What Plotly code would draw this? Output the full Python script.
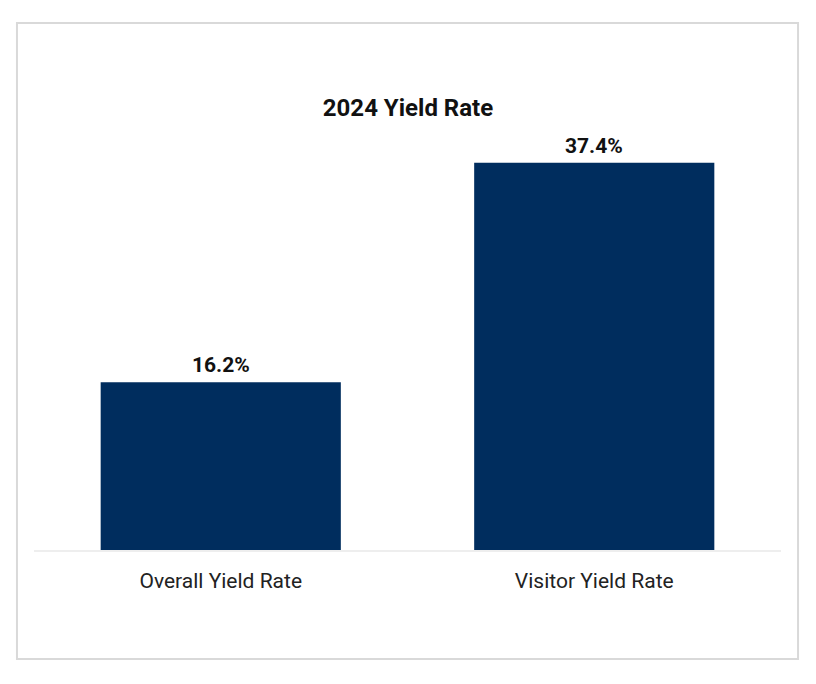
import plotly.graph_objects as go

# data
categories = ["Overall Yield Rate", "Visitor Yield Rate"]
yield_rates = [16.2, 37.4]
bar_labels = ["16.2%", "37.4%"]
chart_title = "2024 Yield Rate"

BAR_COLOR = "#002D5E"

# the page body adds an 8px margin, so the margins are shifted to compensate
OFF = 8

fig = go.Figure(
    go.Bar(
        x=categories,
        y=yield_rates,
        marker=dict(color=BAR_COLOR, line=dict(width=0)),
        hoverinfo="skip",
    )
)

# value labels above the bars
for cat, val, lab in zip(categories, yield_rates, bar_labels):
    fig.add_annotation(
        x=cat,
        y=val,
        text=f"<b>{lab}</b>",
        showarrow=False,
        yanchor="bottom",
        yshift=3,
        font=dict(family="Roboto", size=21, color="#111111"),
    )

# light grey frame around the whole chart
fig.add_shape(
    type="rect",
    xref="paper",
    yref="paper",
    x0=-0.0228,
    x1=1.0228,
    y0=-0.2339,
    y1=1.1309,
    line=dict(color="#d9d9d9", width=2),
    fillcolor="rgba(0,0,0,0)",
    layer="below",
)

fig.update_layout(
    width=816,
    height=684,
    margin=dict(l=34 - OFF, r=35 + OFF, t=84 - OFF, b=134 + OFF),
    paper_bgcolor="white",
    plot_bgcolor="white",
    bargap=0.357,
    showlegend=False,
    title=dict(
        text="<b>" + chart_title + "</b>",
        x=(408 - OFF) / 816,
        xanchor="center",
        y=1 - (108 - OFF) / 684,
        yanchor="middle",
        font=dict(family="Roboto", size=24, color="#111111"),
    ),
    xaxis=dict(
        showline=True,
        linecolor="#eeeeee",
        linewidth=2,
        showgrid=False,
        ticks="",
        ticklabelstandoff=11,
        tickfont=dict(family="Roboto", size=21, color="#222222"),
    ),
    yaxis=dict(
        range=[0, 45.0],
        visible=False,
        showgrid=False,
        zeroline=False,
    ),
)

fig.write_html("out.html")
